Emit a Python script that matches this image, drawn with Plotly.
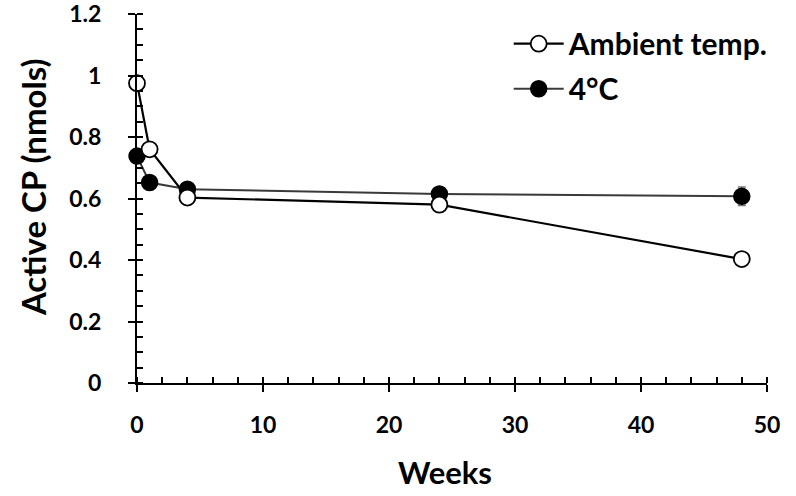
import plotly.graph_objects as go

weeks = [0, 1, 4, 24, 48]
ambient = [0.975, 0.76, 0.603, 0.58, 0.403]
ambient_err = [0.01, 0.02, 0.01, 0.01, 0.01]
cold = [0.738, 0.652, 0.63, 0.615, 0.607]
cold_err = [0.01, 0.02, 0.01, 0.01, 0.03]

x_ticks = [0, 10, 20, 30, 40, 50]
y_ticks = [0, 0.2, 0.4, 0.6, 0.8, 1, 1.2]
y_labels = ["0", "0.2", "0.4", "0.6", "0.8", "1", "1.2"]

FONT = "Lato"

fig = go.Figure()
fig.add_trace(go.Scatter(
    x=weeks, y=cold, name="4°C", mode="lines+markers",
    line=dict(color="#3a3a3a", width=2),
    marker=dict(symbol="circle", size=16, color="black", line=dict(color="black", width=1.5)),
    error_y=dict(type="data", array=cold_err, color="#777", thickness=1.5, width=4),
    cliponaxis=False, legendgroup="b", legendrank=2,
))
fig.add_trace(go.Scatter(
    x=weeks, y=ambient, name="Ambient temp.", mode="lines+markers",
    line=dict(color="black", width=2.2),
    marker=dict(symbol="circle", size=16, color="white", line=dict(color="black", width=1.8)),
    error_y=dict(type="data", array=ambient_err, color="#999", thickness=1.5, width=4),
    cliponaxis=False, legendgroup="a", legendrank=1,
))

axis_common = dict(
    showgrid=False, zeroline=False, showline=True, linecolor="black", linewidth=2,
    ticks="outside", ticklen=7, tickwidth=2, tickcolor="black",
    ticklabeloverflow="allow", automargin=False,
    tickfont=dict(family=FONT, size=23, color="black", weight="bold"),
)

fig.update_xaxes(
    range=[0, 50], tickvals=x_ticks, ticklabelstandoff=13,
    minor=dict(ticks="inside", dtick=2, ticklen=6, tickwidth=2, tickcolor="black"),
    **axis_common,
)
fig.update_yaxes(
    range=[0, 1.2], tickvals=y_ticks, ticktext=y_labels, ticklabelstandoff=22,
    minor=dict(ticks="inside", dtick=0.05, ticklen=6, tickwidth=2, tickcolor="black"),
    **axis_common,
)

fig.add_annotation(
    text="Active CP (nmols)", textangle=-90,
    xref="paper", yref="paper", x=-0.165, y=0.531,
    xanchor="center", yanchor="middle", showarrow=False,
    font=dict(family=FONT, size=33, color="black", weight="bold"),
)
fig.add_annotation(
    text="Weeks",
    xref="paper", yref="paper", x=0.489, y=-0.241,
    xanchor="center", yanchor="middle", showarrow=False,
    font=dict(family=FONT, size=31, color="black", weight="bold"),
)

fig.update_layout(
    width=796, height=496,
    margin=dict(l=137, r=29, t=14, b=113, autoexpand=False),
    paper_bgcolor="white", plot_bgcolor="white",
    legend=dict(
        x=0.59, y=0.99, xanchor="left", yanchor="top",
        font=dict(family=FONT, size=30, color="black", weight="bold"),
        bgcolor="rgba(0,0,0,0)", tracegroupgap=3, itemwidth=50,
    ),
)

fig.write_html("out.html", config={"displayModeBar": False},
               post_script="document.body.style.margin='0';")
